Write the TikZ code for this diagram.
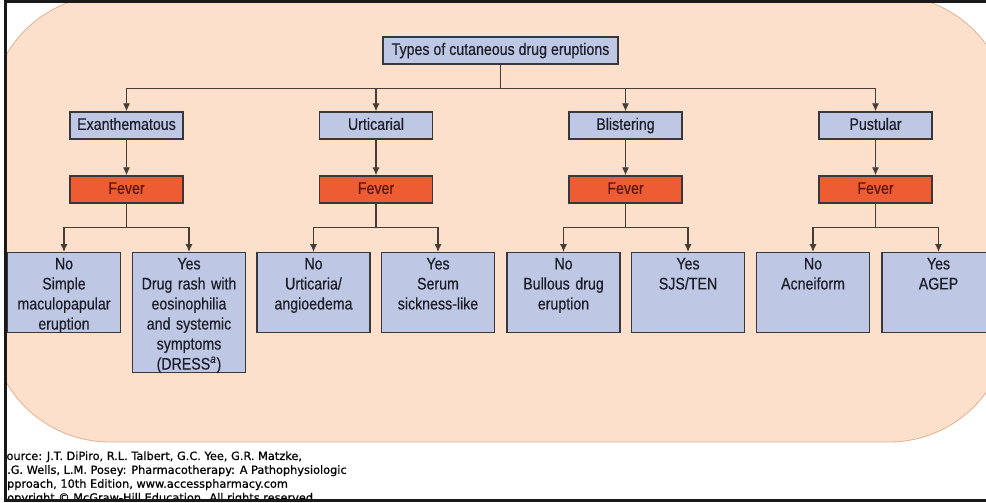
\documentclass[tikz,border=0pt]{standalone}
\definecolor{cpeach}{RGB}{252,224,204}
\definecolor{cpeachd}{RGB}{228,180,150}
\definecolor{cbox}{RGB}{190,200,228}
\definecolor{cfever}{RGB}{238,92,52}
\definecolor{cfevtxt}{RGB}{90,24,14}
\definecolor{cline}{RGB}{72,60,54}
\definecolor{cedge}{RGB}{55,55,60}
\definecolor{ctxt}{RGB}{30,30,42}
\usepackage{fontspec}
\setsansfont{Liberation Sans}[FakeStretch=0.85, FakeBold=0.5]
\newfontfamily\srcfont{DejaVu Sans}[FakeBold=0.6]
\usepackage{tikz}
\usetikzlibrary{arrows.meta}

\begin{document}
\begin{tikzpicture}[x=0.02cm, y=-0.02cm,
    hd/.style={draw=cedge, line width=0.8pt, fill=cbox, minimum width=2.26cm,
               minimum height=0.54cm, inner sep=0pt, text=ctxt,
               text height=7pt, text depth=2pt,
               font=\sffamily\fontsize{9.5}{11.4}\selectfont},
    title/.style={hd, minimum width=4.7cm},
    fever/.style={hd, fill=cfever, text=cfevtxt},
    leaf/.style={draw=cedge, line width=0.8pt, fill=cbox, anchor=north,
                 text width=2.26cm-4pt, align=center, inner xsep=2pt,
                 inner ysep=2.5pt, text height=7pt, text depth=33.5pt, text=ctxt,
                 font=\sffamily\fontsize{9.5}{11.4}\selectfont},
    tall/.style={leaf, text depth=56.3pt},
    arr/.style={-{Latex[length=4.5pt,width=4pt]}, cline, line width=0.65pt},
    frame/.style={line width=0.06cm, black!90},
  ]
  \useasboundingbox (0,0) rectangle (986,503);
  \begin{scope}
    \clip (5.5,1.5) rectangle (990,500.5);
    \draw[fill=cpeach, draw=cpeachd, line width=0.5pt, rounded corners=2.4cm]
      (-10,-5) rectangle (1009,442);

    \node[title] (types) at (500.5,50.5) {Types of cutaneous drug eruptions};

    \node[hd] (exan) at (126.5,125.5) {Exanthematous};
    \node[hd] (urti) at (376,125.5)   {Urticarial};
    \node[hd] (blis) at (625.5,125.5) {Blistering};
    \node[hd] (pust) at (875.5,125.5) {Pustular};

    \node[fever] (fexan) at (126.5,189.5) {Fever};
    \node[fever] (furti) at (376,189.5)   {Fever};
    \node[fever] (fblis) at (625.5,189.5) {Fever};
    \node[fever] (fpust) at (875.5,189.5) {Fever};

    \node[leaf] (smpl)  at (64,252)    {No\\Simple\\maculopapular\\eruption};
    \node[tall] (dress) at (189,252)   {Yes\\Drug rash with\\eosinophilia\\and systemic\\symptoms\\(DRESS\textsuperscript{\textit{a}})};
    \node[leaf] (urtno) at (313.5,252) {No\\Urticaria/\\angioedema};
    \node[leaf] (serum) at (438,252)   {Yes\\Serum\\sickness-like};
    \node[leaf] (bull)  at (563.5,252) {No\\Bullous drug\\eruption};
    \node[leaf] (sjs)   at (688,252)   {Yes\\SJS/TEN};
    \node[leaf] (acne)  at (813,252)   {No\\Acneiform};
    \node[leaf] (agep)  at (938.5,252) {Yes\\AGEP};

    \foreach \c in {exan,urti,blis,pust}
      \draw[arr] (types.south) -- ++(0,24) -| (\c.north);
    \foreach \c/\f in {exan/fexan,urti/furti,blis/fblis,pust/fpust}
      \draw[arr] (\c) -- (\f);
    \foreach \f/\a/\b in {fexan/smpl/dress,furti/urtno/serum,fblis/bull/sjs,fpust/acne/agep} {
      \draw[arr] (\f.south) -- ++(0,24) -| (\a.north);
      \draw[arr] (\f.south) -- ++(0,24) -| (\b.north);
    }

    \node[anchor=north west, inner sep=0pt, align=left, text=black,
          font=\srcfont\fontsize{6.45}{7.9}\selectfont] (src) at (-1,451)
      {Source: J.T. DiPiro, R.L. Talbert, G.C. Yee, G.R. Matzke,\\
       B.G. Wells, L.M. Posey: Pharmacotherapy: A Pathophysiologic\\
       Approach, 10th Edition, www.accesspharmacy.com\\
       Copyright © McGraw-Hill Education. All rights reserved.};
  \end{scope}
  \draw[frame] (990,1.5) -- (5.5,1.5) -- (5.5,500.5) -- (990,500.5);
\end{tikzpicture}
\end{document}
